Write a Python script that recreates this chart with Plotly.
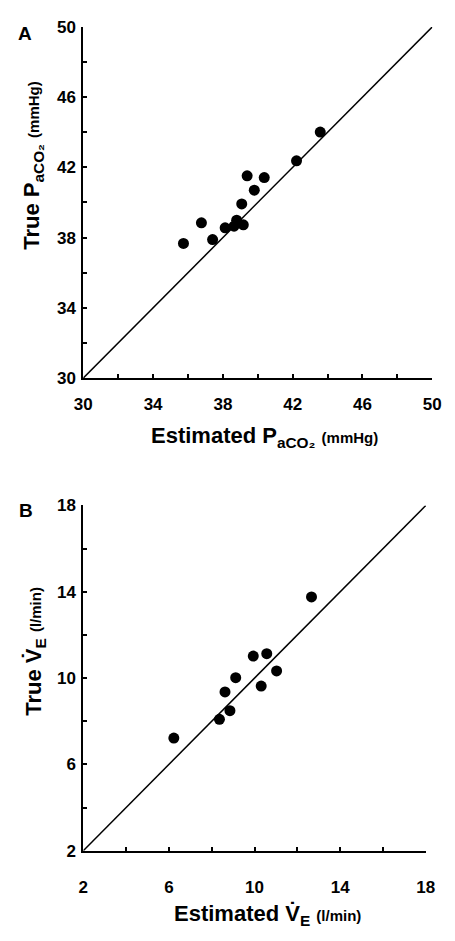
import plotly.graph_objects as go

# Panel A data: PaCO2 (mmHg)
est_paco2 = [35.74, 36.77, 37.41, 38.13, 38.64, 38.79, 39.17, 39.08, 39.39, 39.80, 40.37, 42.22, 43.58]
true_paco2 = [37.67, 38.84, 37.89, 38.56, 38.65, 38.99, 38.73, 39.92, 41.52, 40.70, 41.42, 42.37, 44.01]
identity_a = [30, 50]
ticks_a = [30, 34, 38, 42, 46, 50]

# Panel B data: VE (l/min)
est_ve = [6.23, 8.36, 8.85, 8.62, 9.12, 9.94, 10.57, 10.31, 11.03, 12.66]
true_ve = [7.22, 8.09, 8.49, 9.36, 10.02, 11.02, 11.13, 9.63, 10.33, 13.76]
identity_b = [2, 18]
ticks_b = [2, 6, 10, 14, 18]

FONT = "Liberation Sans"
tickfont = dict(family=FONT, size=17, color="black")

fig = go.Figure()
fig.add_trace(go.Scatter(x=identity_a, y=identity_a, mode="lines",
                         line=dict(color="black", width=1.5), xaxis="x", yaxis="y", hoverinfo="skip"))
fig.add_trace(go.Scatter(x=est_paco2, y=true_paco2, mode="markers",
                         marker=dict(color="black", size=11), xaxis="x", yaxis="y"))
fig.add_trace(go.Scatter(x=identity_b, y=identity_b, mode="lines",
                         line=dict(color="black", width=1.5), xaxis="x2", yaxis="y2", hoverinfo="skip"))
fig.add_trace(go.Scatter(x=est_ve, y=true_ve, mode="markers",
                         marker=dict(color="black", size=11), xaxis="x2", yaxis="y2"))

def ax(rng, ticks, domain, anchor, standoff):
    return dict(range=rng, domain=domain, anchor=anchor, tickvals=ticks,
                ticktext=["<b>%d</b>" % t for t in ticks],
                showgrid=False, zeroline=False, showline=True, linecolor="black", linewidth=2,
                ticks="inside", ticklen=4, tickwidth=1.5, tickcolor="black",
                minor=dict(dtick=2, ticks="inside", ticklen=4, tickcolor="black", tickwidth=1.5, showgrid=False),
                tickfont=tickfont, ticklabelstandoff=standoff, fixedrange=True)

fig.update_layout(
    width=455, height=941, margin=dict(l=0, r=0, t=0, b=0),
    paper_bgcolor="white", plot_bgcolor="white", showlegend=False,
    xaxis=ax([30, 50], ticks_a, [0.170, 0.9686], "y", 10),
    yaxis=ax([30, 50], ticks_a, [0.5997, 0.9806], "x", 2),
    xaxis2=ax([2, 18], ticks_b, [0.170, 0.9538], "y2", 20),
    yaxis2=ax([2, 18], ticks_b, [0.0871, 0.4615], "x2", 2),
)

title_font = dict(family=FONT, size=22, color="black")
small = '<span style="font-size:15px">'
annos = [
    dict(text="<b>A</b>", x=17 / 455, y=1 - 25 / 941, font=dict(family=FONT, size=19, color="black")),
    dict(text="<b>B</b>", x=18 / 455, y=1 - 512 / 941, font=dict(family=FONT, size=19, color="black")),
    dict(text="<b>True P<sub>aCO₂</sub> " + small + "(mmHg)</span></b>", x=25 / 455, y=1 - 160 / 941,
         textangle=-90, font=title_font),
    dict(text="<b>Estimated P<sub>aCO₂</sub> " + small + "(mmHg)</span></b>", x=266 / 455, y=1 - 437 / 941,
         font=title_font),
    dict(text="<b>True V̇<sub>E</sub> " + small + "(l/min)</span></b>", x=27 / 455, y=1 - 655 / 941,
         textangle=-90, font=title_font),
    dict(text="<b>Estimated V̇<sub>E</sub> " + small + "(l/min)</span></b>", x=269 / 455, y=1 - 925 / 941,
         font=title_font),
]
for a in annos:
    fig.add_annotation(xref="paper", yref="paper", showarrow=False, xanchor="center", yanchor="middle", **a)

fig.write_html("out.html")
